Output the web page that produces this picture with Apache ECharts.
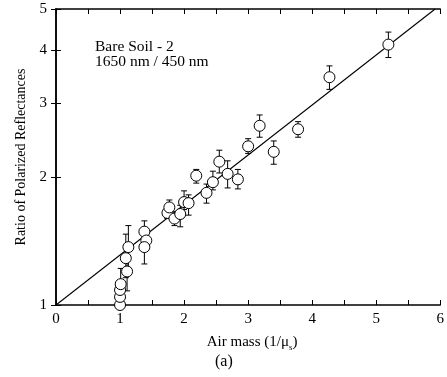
<!DOCTYPE html>
<html><head><meta charset="utf-8">
<script src="https://cdn.jsdelivr.net/npm/echarts@6/dist/echarts.min.js"></script>
<style>html,body{margin:0;padding:0;background:#fff}#c{width:447px;height:377px}</style>
</head><body><div id="c"></div>
<script>
const airMass = [1.00, 1.00, 1.00, 1.01, 1.09, 1.11, 1.13, 1.38, 1.41, 1.38, 1.74, 1.77, 1.85, 1.94, 2.00, 2.07, 2.19, 2.35, 2.45, 2.55, 2.68, 2.84, 3.00, 3.18, 3.40, 3.78, 4.27, 5.19];
const ratio   = [1.00, 1.045, 1.085, 1.12, 1.29, 1.20, 1.37, 1.49, 1.42, 1.37, 1.65, 1.70, 1.60, 1.64, 1.75, 1.74, 2.02, 1.84, 1.95, 2.18, 2.04, 1.98, 2.37, 2.65, 2.30, 2.60, 3.45, 4.12];
const errLow  = [1.00, 1.045, 1.085, 1.05, 1.16, 1.08, 1.22, 1.42, 1.36, 1.25, 1.60, 1.63, 1.54, 1.53, 1.68, 1.63, 1.94, 1.74, 1.87, 2.05, 1.89, 1.88, 2.28, 2.49, 2.15, 2.49, 3.23, 3.84];
const errHigh = [1.00, 1.045, 1.085, 1.22, 1.47, 1.30, 1.54, 1.58, 1.48, 1.50, 1.71, 1.77, 1.66, 1.72, 1.86, 1.82, 2.09, 1.93, 2.07, 2.32, 2.19, 2.09, 2.47, 2.81, 2.44, 2.71, 3.67, 4.41];
const fitLine = [[0, 1], [5.92, 5]];
const xTickValues = [0, 1, 2, 3, 4, 5, 6];
const yTickValues = [1, 2, 3, 4, 5];

const FONT = '"Liberation Serif", "DejaVu Serif", serif';
const chart = echarts.init(document.getElementById('c'), null, {renderer: 'canvas'});
const axisLine = {show: true, lineStyle: {color: '#000', width: 1.5}};
const pts = airMass.map((m, i) => [m, ratio[i]]);
const bars = airMass.map((m, i) => [m, errLow[i], errHigh[i]]);

function xAx(pos, showLabel) {
  return {
    type: 'value', position: pos, min: 0, max: 6, interval: 1,
    axisLine: axisLine,
    axisTick: {show: true, inside: true, length: 5, lineStyle: {color: '#000', width: 1}},
    minorTick: {show: true, splitNumber: 2, length: 5, lineStyle: {color: '#000', width: 1}},
    splitLine: {show: false},
    axisLabel: {show: showLabel, color: '#000', fontFamily: FONT, fontSize: 15, margin: 7},
    name: showLabel ? 'Air mass (1/μ{s|s})' : '',
    nameLocation: 'middle', nameGap: 28,
    nameTextStyle: {color: '#000', fontFamily: FONT, fontSize: 15, padding: [0, 0, 0, 8],
      rich: {s: {fontFamily: FONT, fontSize: 9, verticalAlign: 'bottom', padding: [10, 0, 0, 0]}}}
  };
}
function yAx(pos, showLabel) {
  return {
    type: 'log', logBase: 10, position: pos, min: 1, max: 5,
    axisLine: axisLine,
    axisTick: {show: true, inside: true, length: 5, customValues: yTickValues, lineStyle: {color: '#000', width: 1}},
    splitLine: {show: false},
    axisLabel: {show: showLabel, customValues: yTickValues, color: '#000', fontFamily: FONT, fontSize: 15, margin: 9},
    name: showLabel ? 'Ratio of Polarized Reflectances' : '',
    nameLocation: 'middle', nameGap: 27,
    nameTextStyle: {color: '#000', fontFamily: FONT, fontSize: 14}
  };
}

chart.setOption({
  backgroundColor: '#fff',
  animation: false,
  grid: {left: 56, right: 1, top: 9, bottom: 72, containLabel: false},
  xAxis: [xAx('bottom', true), xAx('top', false)],
  yAxis: [yAx('left', true), yAx('right', false)],
  graphic: [
    {type: 'text', left: 95, top: 39, style: {text: 'Bare Soil - 2\n1650 nm / 450 nm', fill: '#000', font: '15.5px ' + FONT, lineHeight: 15}},
    {type: 'text', left: 215, top: 354, style: {text: '(a)', fill: '#000', font: '16px ' + FONT}}
  ],
  series: [
    {type: 'line', data: fitLine, symbol: 'none', lineStyle: {color: '#000', width: 1.1}, z: 1},
    {type: 'custom', data: bars, encode: {x: 0, y: [1, 2]}, z: 2,
      renderItem: function (params, api) {
        const x = api.value(0);
        const a = api.coord([x, api.value(1)]);
        const b = api.coord([x, api.value(2)]);
        const w = 3;
        const st = {stroke: '#000', lineWidth: 1};
        return {type: 'group', children: [
          {type: 'line', shape: {x1: a[0], y1: a[1], x2: b[0], y2: b[1]}, style: st},
          {type: 'line', shape: {x1: a[0] - w, y1: a[1], x2: a[0] + w, y2: a[1]}, style: st},
          {type: 'line', shape: {x1: b[0] - w, y1: b[1], x2: b[0] + w, y2: b[1]}, style: st}
        ]};
      }},
    {type: 'scatter', data: pts, symbol: 'circle', symbolSize: 11, z: 3,
      itemStyle: {color: '#fff', borderColor: '#000', borderWidth: 1, opacity: 1}}
  ]
});
</script></body></html>
